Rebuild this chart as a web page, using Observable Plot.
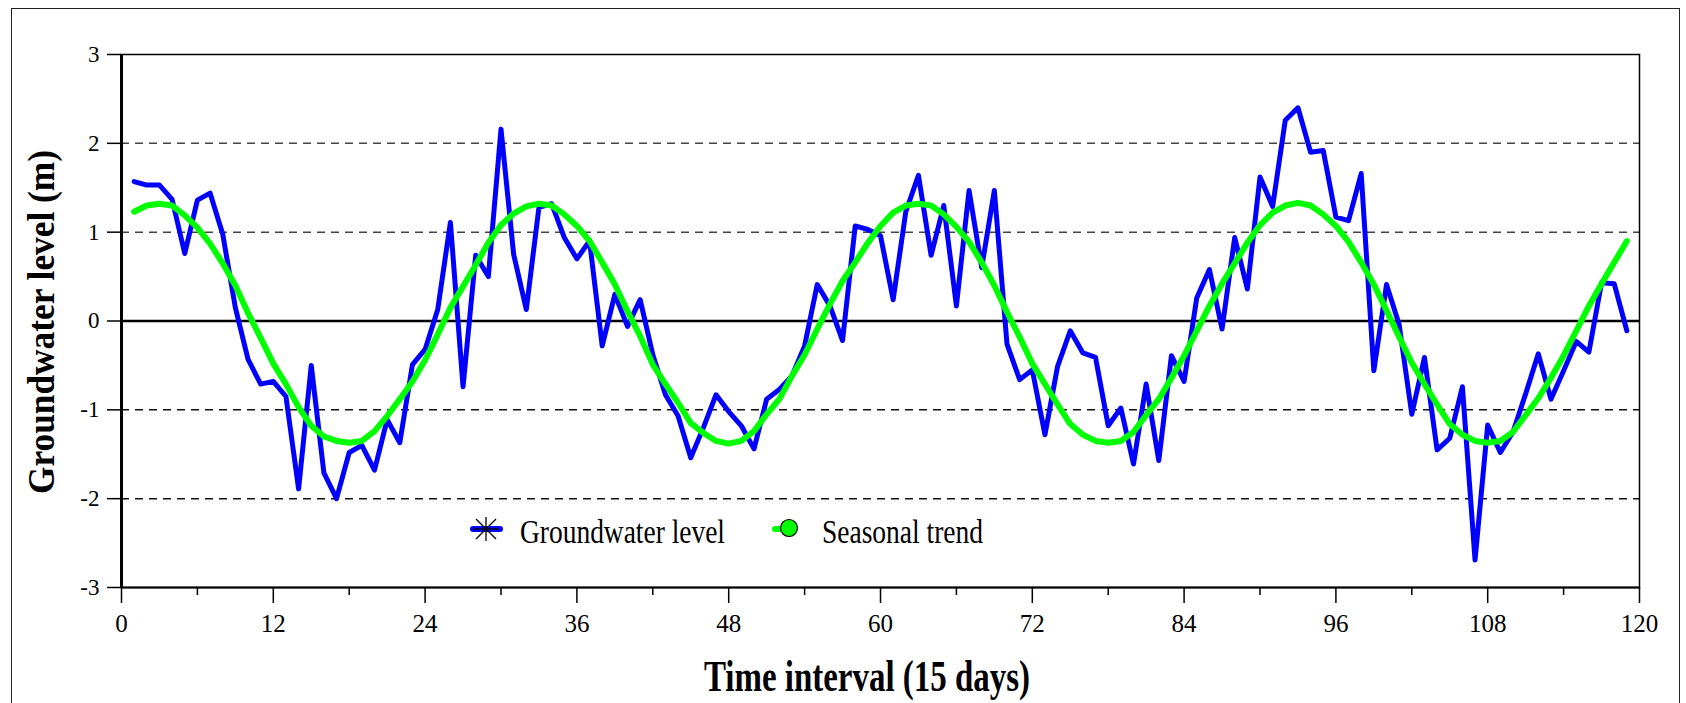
<!DOCTYPE html>
<html><head><meta charset="utf-8">
<script src="https://cdn.jsdelivr.net/npm/d3@7"></script>
<script src="https://cdn.jsdelivr.net/npm/@observablehq/plot@0.6"></script>
<style>
html,body{margin:0;padding:0;background:#fff;overflow:hidden;}
#wrap{position:relative;width:1686px;height:703px;overflow:hidden;background:#fff;}
#border{position:absolute;left:11px;top:8px;width:1669px;height:740px;border:1.5px solid #222;box-sizing:border-box;}
#wrap svg{position:absolute;left:0;top:0;}
</style></head><body><div id="wrap"><div id="border"></div></div>
<script>
// Groundwater level, time intervals 1..119 (15 days each)
const groundwaterLevel = [
 1.57,1.53,1.53,1.37,0.76,1.36,1.44,0.98,0.15,-0.43,
 -0.71,-0.68,-0.85,-1.89,-0.50,-1.71,-2.00,-1.48,-1.40,-1.68,
 -1.11,-1.37,-0.49,-0.32,0.13,1.11,-0.74,0.74,0.50,2.16,
 0.75,0.13,1.28,1.32,0.94,0.70,0.90,-0.28,0.30,-0.06,
 0.24,-0.38,-0.83,-1.07,-1.54,-1.20,-0.83,-1.02,-1.18,-1.44,
 -0.88,-0.77,-0.62,-0.28,0.41,0.17,-0.22,1.07,1.03,0.96,
 0.24,1.23,1.64,0.74,1.30,0.17,1.47,0.60,1.47,-0.26,
 -0.66,-0.55,-1.28,-0.51,-0.11,-0.36,-0.41,-1.18,-0.98,-1.61,
 -0.71,-1.57,-0.39,-0.68,0.26,0.58,-0.09,0.94,0.36,1.62,
 1.29,2.26,2.40,1.90,1.92,1.17,1.13,1.66,-0.56,0.41,
 -0.04,-1.05,-0.41,-1.45,-1.32,-0.74,-2.69,-1.17,-1.48,-1.25,
 -0.82,-0.37,-0.88,-0.56,-0.23,-0.35,0.43,0.42,-0.11
];
// Seasonal trend
const seasonalTrend = [
 1.23,1.30,1.32,1.30,1.19,1.05,0.87,0.65,0.40,0.09,-0.19,-0.48,-0.71,-0.97,-1.18,-1.30,-1.35,-1.37,-1.35,-1.24,-1.07,-0.88,-0.68,-0.44,-0.15,0.15,0.39,0.63,0.88,1.08,
 1.21,1.29,1.32,1.30,1.20,1.07,0.90,0.66,0.41,0.11,-0.17,-0.49,-0.71,-0.92,-1.15,-1.26,-1.35,-1.38,-1.35,-1.24,-1.05,-0.88,-0.62,-0.38,-0.09,0.19,0.45,0.66,0.88,1.07,
 1.22,1.30,1.32,1.30,1.20,1.06,0.89,0.66,0.40,0.10,-0.18,-0.48,-0.71,-0.94,-1.16,-1.28,-1.35,-1.37,-1.35,-1.25,-1.06,-0.88,-0.64,-0.39,-0.11,0.17,0.42,0.65,0.88,1.08,
 1.22,1.30,1.33,1.30,1.20,1.07,0.89,0.66,0.41,0.12,-0.18,-0.47,-0.71,-0.94,-1.16,-1.28,-1.35,-1.37,-1.35,-1.25,-1.06,-0.87,-0.64,-0.39,-0.11,0.17,0.42,0.66,0.90
];
const xTicks = [0,12,24,36,48,60,72,84,96,108,120];
const xMinorTicks = [6,18,30,42,54,66,78,90,102,114];
const yTicks = [-3,-2,-1,0,1,2,3];
const gridLevels = [-2,-1,1,2];
const seriesNames = ["Groundwater level","Seasonal trend"];
const xTitle = "Time interval (15 days)";
const yTitle = "Groundwater level (m)";

const rows = groundwaterLevel.map((v,i)=>({t:i+1, level:v, trend:seasonalTrend[i]}));

const serif = "'Liberation Serif','Times New Roman',serif";
const chart = Plot.plot({
  width:1686, height:703,
  marginLeft:121, marginRight:47, marginTop:54, marginBottom:116,
  style:{fontFamily:serif, fontSize:"23px", color:"#000", background:"transparent", overflow:"visible"},
  x:{domain:[0,120]},
  y:{domain:[-3,3]},
  marks:[
    Plot.ruleY(gridLevels,{stroke:d=>d>0?"#444":"#111", strokeWidth:1.5, strokeDasharray:"8,6"}),
    Plot.ruleY([0],{stroke:"#000", strokeWidth:2.5}),
    Plot.frame({stroke:"#000", strokeWidth:1.5}),
    Plot.ruleX([0],{stroke:"#000", strokeWidth:3}),
    Plot.ruleY([-3],{stroke:"#000", strokeWidth:2}),
    Plot.axisY(yTicks,{tickSize:14, tickPadding:8, fontSize:23, strokeWidth:1.5, tickFormat:d=>String(d), label:null}),
    Plot.axisX(xTicks,{tickSize:16, tickPadding:11, fontSize:25, strokeWidth:1.5, tickFormat:d=>String(d), label:null}),
    Plot.axisX(xMinorTicks,{tickSize:8, text:null, strokeWidth:1.5, label:null}),
    Plot.line(rows,{x:"t", y:"level", stroke:"#0000ff", strokeWidth:5, strokeLinejoin:"round", strokeLinecap:"round"}),
    Plot.line(rows,{x:"t", y:"trend", stroke:"#00ff00", strokeWidth:6, strokeLinejoin:"round", strokeLinecap:"round"})
  ]
});
document.getElementById("wrap").appendChild(chart);

const svg = d3.select(chart);
// axis titles
svg.append("text")
  .attr("x",867).attr("y",691)
  .attr("text-anchor","middle")
  .attr("font-family",serif).attr("font-weight","bold").attr("font-size",44)
  .attr("textLength",326).attr("lengthAdjust","spacingAndGlyphs")
  .attr("fill","#000")
  .text(xTitle);
svg.append("text")
  .attr("transform","translate(54,322) rotate(-90)")
  .attr("text-anchor","middle")
  .attr("font-family",serif).attr("font-weight","bold").attr("font-size",37)
  .attr("textLength",344).attr("lengthAdjust","spacingAndGlyphs")
  .attr("fill","#000")
  .text(yTitle);

// legend inside the plot area
const lg = svg.append("g").attr("text-anchor","start");
lg.append("line").attr("x1",473).attr("x2",500).attr("y1",529).attr("y2",529)
  .attr("stroke","#0000ff").attr("stroke-width",6).attr("stroke-linecap","round");
const ax = 486, ay = 529;
[[-13,0,13,0],[0,-12,0,12],[-10,-10,10,10],[-10,10,10,-10]].forEach(([a,b,c,d])=>{
  lg.append("line").attr("x1",ax+a).attr("y1",ay+b).attr("x2",ax+c).attr("y2",ay+d)
    .attr("stroke","#000").attr("stroke-width",1.3);
});
lg.append("text").attr("x",520).attr("y",543).attr("text-anchor","start")
  .attr("font-family",serif).attr("font-size",34)
  .attr("textLength",205).attr("lengthAdjust","spacingAndGlyphs")
  .attr("fill","#000").text(seriesNames[0]);
lg.append("line").attr("x1",775).attr("x2",786).attr("y1",529).attr("y2",529)
  .attr("stroke","#00ff00").attr("stroke-width",6).attr("stroke-linecap","round");
lg.append("circle").attr("cx",789).attr("cy",528).attr("r",8.5)
  .attr("fill","#00ff00").attr("stroke","#000").attr("stroke-width",1.2);
lg.append("text").attr("x",822).attr("y",543).attr("text-anchor","start")
  .attr("font-family",serif).attr("font-size",34)
  .attr("textLength",161).attr("lengthAdjust","spacingAndGlyphs")
  .attr("fill","#000").text(seriesNames[1]);
</script>
</body></html>
